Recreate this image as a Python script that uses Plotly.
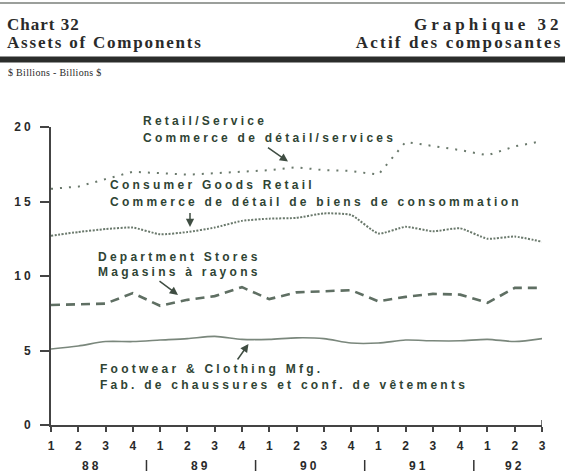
import json
import plotly.graph_objects as go

# Quarterly assets, $ billions, 1988 Q1 - 1992 Q3
quarters = ['1', '2', '3', '4', '1', '2', '3', '4', '1', '2', '3', '4',
            '1', '2', '3', '4', '1', '2', '3']
years = ['88', '89', '90', '91', '92']
retail_service = [15.85, 16.0, 16.5, 17.0, 16.9, 16.8, 16.9, 17.0, 17.1, 17.3,
                  17.1, 17.05, 16.8, 19.0, 18.75, 18.45, 18.1, 18.7, 19.05]
consumer_goods = [12.7, 12.95, 13.15, 13.25, 12.8, 12.95, 13.25, 13.7, 13.85, 13.9,
                  14.2, 14.1, 12.85, 13.3, 13.0, 13.2, 12.5, 12.65, 12.3]
department_stores = [8.05, 8.1, 8.15, 8.85, 8.0, 8.4, 8.65, 9.25, 8.45, 8.9,
                     9.0, 9.05, 8.3, 8.6, 8.8, 8.75, 8.2, 9.2, 9.2]
footwear_clothing = [5.1, 5.3, 5.6, 5.6, 5.7, 5.8, 5.95, 5.75, 5.75, 5.85,
                     5.8, 5.5, 5.5, 5.7, 5.65, 5.65, 5.75, 5.6, 5.8]

x = list(range(len(quarters)))

# page geometry (pixels)
FIG_W, FIG_H = 565, 472
L, R, T, B = 51, 23, 127, 47
PW, PH = FIG_W - L - R, FIG_H - T - B


def px(xp):
    return (xp - L) / PW


def py(yp):
    return (T + PH - yp) / PH


LINE_COL = '#6a796c'
LABEL_COL = '#2f4434'
TEXT_COL = '#2a2a2a'
SANS = 'Liberation Sans, Arial, sans-serif'
SERIF = 'Liberation Serif, Times New Roman, serif'

fig = go.Figure()
fig.add_trace(go.Scatter(x=x, y=retail_service, mode='lines', name='Retail/Service',
                         line=dict(color=LINE_COL, width=2, dash='2px,7px')))
fig.add_trace(go.Scatter(x=x, y=consumer_goods, mode='lines', name='Consumer Goods Retail',
                         line=dict(color=LINE_COL, width=2, dash='2px,1.5px',
                                   shape='spline', smoothing=0.5)))
fig.add_trace(go.Scatter(x=x, y=department_stores, mode='lines', name='Department Stores',
                         line=dict(color='#5f6f63', width=2.6, dash='9px,6px')))
fig.add_trace(go.Scatter(x=x, y=footwear_clothing, mode='lines', name='Footwear & Clothing Mfg.',
                         line=dict(color='#7a877c', width=1.6, shape='spline', smoothing=0.8)))

annotations = []
spacing = {}


def add_text(text, xp, yp, font, anchor='left', ls=None):
    if ls is not None:
        spacing[str(len(annotations))] = ls
    annotations.append(dict(text=text, x=px(xp), y=py(yp), xref='paper', yref='paper',
                            xanchor=anchor, yanchor='middle', align=anchor,
                            showarrow=False, font=font))


def add_arrow(hx, hy, tx, ty):
    annotations.append(dict(text='', x=px(hx), y=py(hy), xref='paper', yref='paper',
                            ax=tx - hx, ay=ty - hy, showarrow=True, arrowhead=2,
                            arrowsize=1.1, arrowwidth=1.5, arrowcolor='#3f4d42'))


title_font = dict(family=SERIF, size=17, color=TEXT_COL, weight='bold')
add_text('Chart 32', 5, 25, title_font, 'left', 1.0)
add_text('Assets of Components', 5, 43, title_font, 'left', 1.8)
add_text('Graphique 32', 565, 25, title_font, 'right', 4.0)
add_text('Actif des composantes', 565, 43, title_font, 'right', 2.2)
add_text('$ Billions - Billions $', 6, 72,
         dict(family=SERIF, size=10, color=TEXT_COL), 'left', 0.3)

label_font = dict(family=SANS, size=12, color=LABEL_COL, weight='bold')
series_labels = [
    ('Retail/Service', 141, 121.5),
    ('Commerce de détail/services', 141, 137.5),
    ('Consumer Goods Retail', 107.5, 185),
    ('Commerce de détail de biens de consommation', 107.5, 201.5),
    ('Department Stores', 96, 256.5),
    ('Magasins à rayons', 96, 271.5),
    ('Footwear & Clothing Mfg.', 97.5, 369),
    ('Fab. de chaussures et conf. de vêtements', 97.5, 385),
]
for txt, xp, yp in series_labels:
    add_text(txt, xp, yp, label_font, 'left', 3.25)

add_arrow(288, 161.5, 266.5, 146.5)
add_arrow(190, 227, 190, 211.5)
add_arrow(178, 295, 158, 280)
add_arrow(248.5, 344, 236.5, 361)

# year labels under the quarter ticks
year_font = dict(family=SANS, size=12, color=TEXT_COL, weight='bold')
year_centres = [1.5, 5.5, 9.5, 13.5, 17]
for yr, c in zip(years, year_centres):
    spacing[str(len(annotations))] = 3
    annotations.append(dict(text=yr, x=c, xref='x', y=py(465.5), yref='paper',
                            xanchor='center', yanchor='middle', showarrow=False,
                            font=year_font))

shapes = []
# header rules
shapes.append(dict(type='line', xref='paper', yref='paper', x0=px(0), x1=px(565),
                   y0=py(3), y1=py(3), line=dict(color='#7a7f7a', width=1.5)))
shapes.append(dict(type='line', xref='paper', yref='paper', x0=px(0), x1=px(565),
                   y0=py(59.5), y1=py(59.5), line=dict(color='#2b2d2b', width=6)))
# year separators
for s in [3.5, 7.5, 11.5, 15.5]:
    shapes.append(dict(type='line', xref='x', yref='paper', x0=s, x1=s,
                       y0=py(460), y1=py(471), line=dict(color='#333', width=1.5)))
# small end tick at the right of the time axis
shapes.append(dict(type='line', xref='x', yref='paper', x0=18, x1=18,
                   y0=py(425), y1=py(420), line=dict(color='#444', width=1.5)))

fig.update_layout(
    width=FIG_W, height=FIG_H,
    margin=dict(l=L, r=R, t=T, b=B, pad=0),
    paper_bgcolor='white', plot_bgcolor='white',
    showlegend=False,
    annotations=annotations, shapes=shapes,
    xaxis=dict(range=[0, 18], tickmode='array', tickvals=x, ticktext=quarters,
               showgrid=False, zeroline=False, showline=True, linecolor='#444',
               linewidth=1.5, ticks='outside', ticklen=5, tickwidth=1.5,
               tickcolor='#444', ticklabelstandoff=4,
               tickfont=dict(family=SANS, size=12, color=TEXT_COL, weight='bold')),
    yaxis=dict(range=[0, 20], tickmode='array', tickvals=[0, 5, 10, 15, 20],
               showgrid=False, zeroline=False, showline=True, linecolor='#444',
               linewidth=2, ticks='outside', ticklen=9, tickwidth=1.5,
               tickcolor='#444', ticklabelstandoff=4,
               tickfont=dict(family=SANS, size=12, color=TEXT_COL, weight='bold')),
)

post = """
var gd = document.getElementById('{plot_id}');
var sp = %s;
gd.querySelectorAll('g.annotation').forEach(function(g){
  var i = g.getAttribute('data-index');
  var t = g.querySelector('text.annotation-text');
  if (t && sp[i] !== undefined) { t.style.letterSpacing = sp[i] + 'px'; }
});
gd.querySelectorAll('.ytick text').forEach(function(t){ t.style.letterSpacing = '3px'; });
""" % json.dumps(spacing)

fig.write_html('out.html', post_script=post)
